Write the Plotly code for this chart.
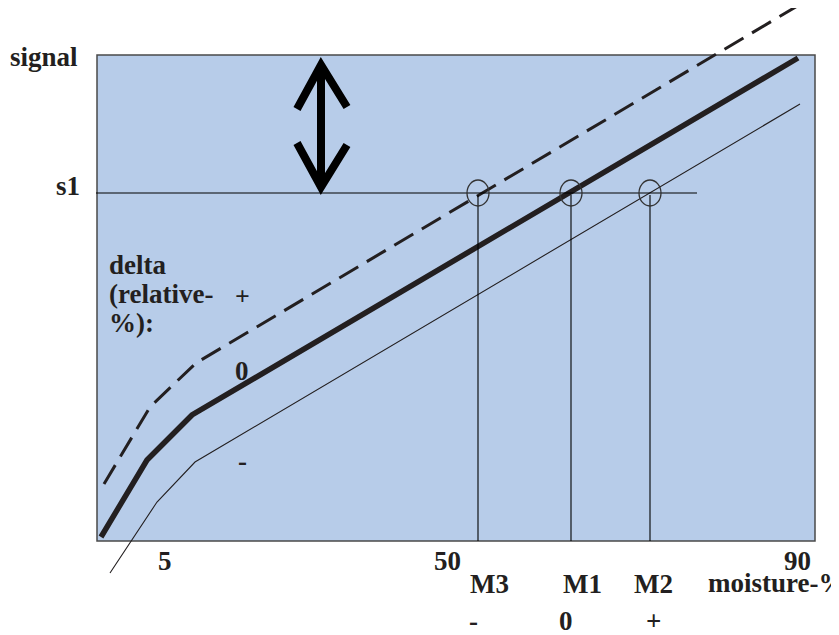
import plotly.graph_objects as go

# Diagram coordinates (arbitrary units, y increases upward)
zero_x = [101, 147, 192, 798]
zero_y = [98, 175, 220, 577]
plus_x = [104, 150, 196, 799]
plus_y = [151, 228, 272, 630]
minus_x = [110, 157, 195, 800]
minus_y = [62, 133, 173, 531]

s1_level = 442
s1_x = [96, 697]
m_names = ["M3", "M1", "M2"]
m_signs = ["-", "0", "+"]
m_x = [478, 571, 650]

plot_x0, plot_x1, plot_y0, plot_y1 = 97, 815, 94, 580

tick_labels = ["5", "50", "90"]
tick_x = [165, 447, 797]

arrow_x = 321
arrow_top, arrow_bot = 570, 448

TXT = "#231F20"
FONT = "Liberation Serif"

fig = go.Figure()

# thin "-" line
fig.add_trace(go.Scatter(x=minus_x, y=minus_y, mode="lines",
                         line=dict(color=TXT, width=1.1), hoverinfo="skip"))
# thick "0" line
fig.add_trace(go.Scatter(x=zero_x, y=zero_y, mode="lines",
                         line=dict(color=TXT, width=5.5), hoverinfo="skip"))
# dashed "+" line
fig.add_trace(go.Scatter(x=plus_x, y=plus_y, mode="lines",
                         line=dict(color=TXT, width=3, dash="22px,10px"), hoverinfo="skip"))
# s1 level line
fig.add_trace(go.Scatter(x=s1_x, y=[s1_level, s1_level], mode="lines",
                         line=dict(color="black", width=1.1), hoverinfo="skip"))
# vertical M lines
for mx in m_x:
    fig.add_trace(go.Scatter(x=[mx, mx], y=[s1_level - 2, plot_y0], mode="lines",
                             line=dict(color="black", width=1.1), hoverinfo="skip"))
# double arrow
wing = 24
wing_dy = 44
ax_pts_x = [arrow_x, arrow_x, None,
            arrow_x - wing, arrow_x, arrow_x + wing + 2, None,
            arrow_x - wing, arrow_x, arrow_x + wing + 2]
ax_pts_y = [arrow_top - 2, arrow_bot + 2, None,
            arrow_top - wing_dy, arrow_top, arrow_top - wing_dy + 2, None,
            arrow_bot + wing_dy, arrow_bot, arrow_bot + wing_dy - 2]
fig.add_trace(go.Scatter(x=ax_pts_x, y=ax_pts_y, mode="lines",
                         line=dict(color="black", width=8), hoverinfo="skip"))

shapes = [
    dict(type="rect", xref="x", yref="y", x0=plot_x0, x1=plot_x1, y0=plot_y0, y1=plot_y1,
         fillcolor="#B7CCE9", line=dict(color="#4a4a4a", width=1.5), layer="below"),
]
for mx in m_x:
    shapes.append(dict(type="circle", xref="x", yref="y",
                       x0=mx - 11, x1=mx + 11, y0=s1_level - 13, y1=s1_level + 13,
                       line=dict(color="#333333", width=1.3)))

def ann(text, x, y, xanchor="center", size=27):
    return dict(text=text, x=x, y=y, xref="x", yref="y", showarrow=False,
                xanchor=xanchor, yanchor="middle",
                font=dict(family=FONT, size=size, color=TXT, weight="bold"))

annotations = [
    ann("signal", 44, 578),
    ann("s1", 54, 449, "left"),
    ann("delta", 107, 370, "left"),
    ann("(relative-", 107, 341, "left"),
    ann("%):", 107, 312, "left"),
    ann("+", 242, 339, size=26),
    ann("0", 242, 264),
    ann("-", 242, 174),
]
for t, tx in zip(tick_labels, tick_x):
    annotations.append(ann(t, tx, 74))
m_label_x = [489, 582, 653]
for n, s, lx, sx in zip(m_names, m_signs, m_label_x, [473, 566, 653]):
    annotations.append(ann(n, lx, 51))
    annotations.append(ann(s, sx, 14))
annotations.append(ann("moisture-%", 706, 52, "left"))

# The page body has an 8px margin; size the figure to the remaining area
fig.update_layout(
    width=831, height=627,
    margin=dict(l=0, r=0, t=0, b=0),
    paper_bgcolor="white", plot_bgcolor="white",
    showlegend=False,
    xaxis=dict(range=[8, 839], visible=False, fixedrange=True),
    yaxis=dict(range=[0, 627], visible=False, fixedrange=True),
    shapes=shapes,
    annotations=annotations,
)

fig.write_html("out.html")
